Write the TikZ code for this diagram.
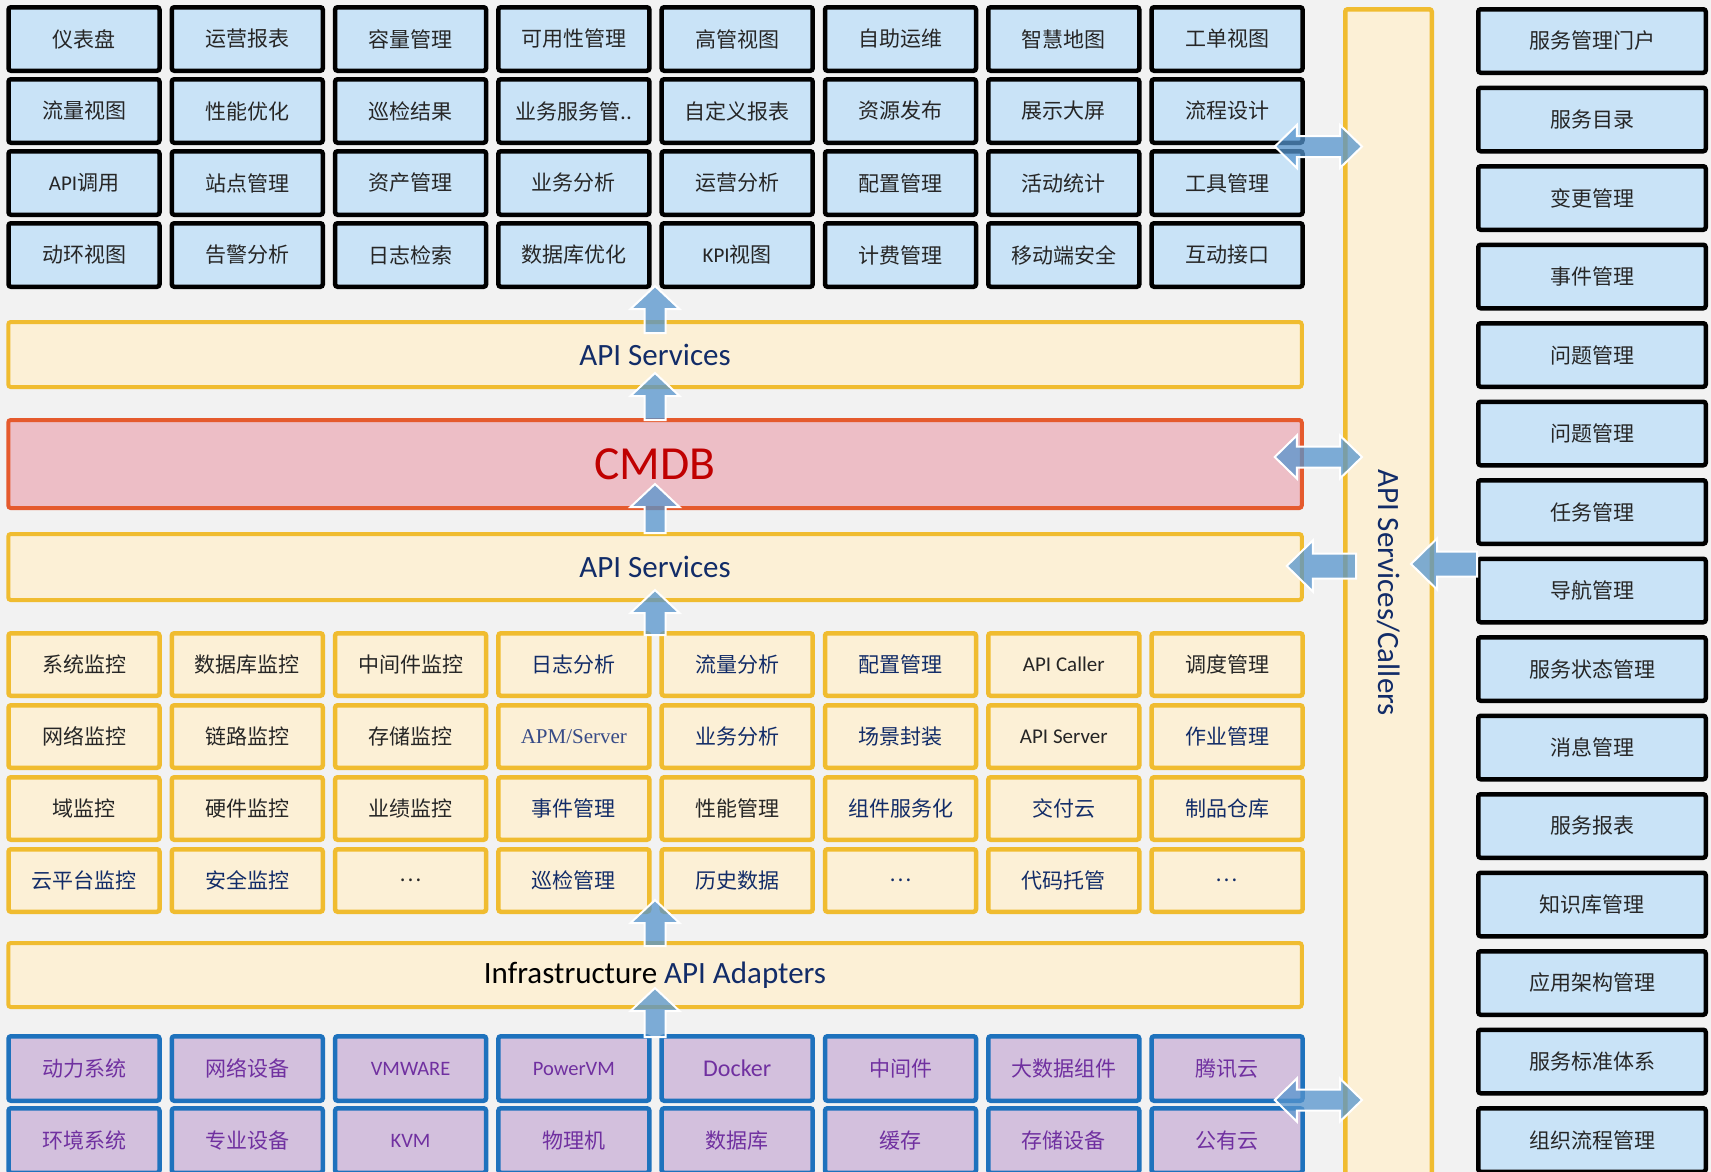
\documentclass[tikz,border=0pt]{standalone}
\usepackage{fontspec}
\setmainfont{Noto Sans CJK SC}
\newfontfamily\lat{Carlito}
\newfontfamily\serl{Liberation Serif}
\usetikzlibrary{calc}
\definecolor{bgc}{RGB}{242,242,242}
\definecolor{bluefill}{RGB}{201,227,247}
\definecolor{txt}{RGB}{38,38,38}
\definecolor{cream}{RGB}{252,240,214}
\definecolor{gold}{RGB}{240,188,48}
\definecolor{navy}{RGB}{18,44,104}
\definecolor{apmc}{RGB}{55,75,135}
\definecolor{pinkf}{RGB}{237,190,198}
\definecolor{orangeb}{RGB}{229,90,45}
\definecolor{cmdbred}{RGB}{192,0,0}
\definecolor{lavf}{RGB}{211,192,221}
\definecolor{blueb}{RGB}{30,114,189}
\definecolor{purp}{RGB}{112,48,160}
\definecolor{arrc}{RGB}{85,148,205}
\newcommand\fsz[1]{\fontsize{#1}{#1}\selectfont}
\newcommand\arrUp[2]{\draw[blk] let \p1=(#1), \p2=(#2) in (\x1-6.3pt,\y1) -- (\x1-6.3pt,\y2-13.8pt) -- (\x1-14.7pt,\y2-13.8pt) -- (\x1,\y2) -- (\x1+14.7pt,\y2-13.8pt) -- (\x1+6.3pt,\y2-13.8pt) -- (\x1+6.3pt,\y1) -- cycle;}
\newcommand\arrDbl[2]{\draw[blk] let \p1=(#1), \p2=(#2) in (\x1,\y1) -- (\x1+13.2pt,\y1+12.9pt) -- (\x1+13.2pt,\y1+6.3pt) -- (\x2-13.2pt,\y1+6.3pt) -- (\x2-13.2pt,\y1+12.9pt) -- (\x2,\y1) -- (\x2-13.2pt,\y1-12.9pt) -- (\x2-13.2pt,\y1-6.3pt) -- (\x1+13.2pt,\y1-6.3pt) -- (\x1+13.2pt,\y1-12.9pt) -- cycle;}
\newcommand\arrLeft[2]{\draw[blk] let \p1=(#1), \p2=(#2) in (\x1,\y1+7.5pt) -- (\x2+15.6pt,\y1+7.5pt) -- (\x2+15.6pt,\y1+15.3pt) -- (\x2,\y1) -- (\x2+15.6pt,\y1-15.3pt) -- (\x2+15.6pt,\y1-7.5pt) -- (\x1,\y1-7.5pt) -- cycle;}
\tikzset{
 tbox/.style={draw=black, fill=bluefill, line width=2.7pt, rounded corners=1.5pt, minimum width=90.6pt, minimum height=38.1pt, inner sep=0pt, text=txt, font=\fsz{12.6pt}},
 mbox/.style={tbox, draw=gold, fill=cream, minimum height=37.5pt},
 bbox/.style={tbox, draw=blueb, fill=lavf, text=purp, minimum height=38.7pt},
 rbox/.style={tbox, minimum width=136.5pt},
 band/.style={draw=gold, fill=cream, line width=2.4pt, rounded corners=1.5pt, minimum width=776.1pt, inner sep=0pt, text=navy, font=\lat\fsz{18.6pt}},
 blk/.style={fill=arrc, fill opacity=0.75, draw=white, line width=1.2pt, line join=miter},
}
\begin{document}
\begin{tikzpicture}[x=0.6pt, y=-0.6pt]
\fill[bgc] (0,0) rectangle (1711,1172);
\useasboundingbox (0,0) rectangle (1711,1172);
\clip (0,0) rectangle (1711,1172);
% top grid
\foreach \t [count=\c] in {仪表盘,运营报表,容量管理,可用性管理,高管视图,自助运维,智慧地图,工单视图}
  \node[tbox] (t-1-\c) at ({84+163.3*(\c-1)},39) {\t};
\foreach \t [count=\c] in {流量视图,性能优化,巡检结果,业务服务管..,自定义报表,资源发布,展示大屏,流程设计}
  \node[tbox] (t-2-\c) at ({84+163.3*(\c-1)},111) {\t};
\foreach \t [count=\c] in {{{\lat API}调用},站点管理,资产管理,业务分析,运营分析,配置管理,活动统计,工具管理}
  \node[tbox] (t-3-\c) at ({84+163.3*(\c-1)},183) {\t};
\foreach \t [count=\c] in {动环视图,告警分析,日志检索,数据库优化,{{\lat KPI}视图},计费管理,移动端安全,互动接口}
  \node[tbox] (t-4-\c) at ({84+163.3*(\c-1)},255) {\t};
% middle grid
\foreach \t [count=\c] in {系统监控,数据库监控,中间件监控,{\color{navy}日志分析},{\color{navy}流量分析},{\color{navy}配置管理},{\lat API Caller},调度管理}
  \node[mbox] (m-1-\c) at ({84+163.3*(\c-1)},664.5) {\t};
\foreach \t [count=\c] in {网络监控,链路监控,存储监控,{\serl\color{apmc}APM/Server},{\color{navy}业务分析},{\color{navy}场景封装},{\lat API Server},{\color{navy}作业管理}}
  \node[mbox] (m-2-\c) at ({84+163.3*(\c-1)},736.5) {\t};
\foreach \t [count=\c] in {域监控,硬件监控,业绩监控,{\color{navy}事件管理},性能管理,{\color{navy}组件服务化},{\color{navy}交付云},{\color{navy}制品仓库}}
  \node[mbox] (m-3-\c) at ({84+163.3*(\c-1)},808.5) {\t};
\foreach \t [count=\c] in {{\color{navy}云平台监控},{\color{navy}安全监控},…,{\color{navy}巡检管理},{\color{navy}历史数据},{\color{navy}…},{\color{navy}代码托管},{\color{navy}…}}
  \node[mbox] (m-4-\c) at ({84+163.3*(\c-1)},880.5) {\t};
% bottom grid
\foreach \t [count=\c] in {动力系统,网络设备,{\lat\fsz{12.3pt}VMWARE},{\lat\fsz{12.3pt}PowerVM},{\lat\fsz{14.4pt}Docker},中间件,大数据组件,腾讯云}
  \node[bbox] (b-1-\c) at ({84+163.3*(\c-1)},1068.5) {\t};
\foreach \t [count=\c] in {环境系统,专业设备,{\lat\fsz{12.3pt}KVM},物理机,数据库,缓存,存储设备,公有云}
  \node[bbox] (b-2-\c) at ({84+163.3*(\c-1)},1140.5) {\t};
% right column
\foreach \t [count=\i] in {服务管理门户,服务目录,变更管理,事件管理,问题管理,问题管理,任务管理,导航管理,服务状态管理,消息管理,服务报表,知识库管理,应用架构管理,服务标准体系,组织流程管理}
  \node[rbox] (r-\i) at (1592,{41+78.5*(\i-1)}) {\t};
% bands
\node[band, minimum height=39pt] (band1) at (655,354.5) {API Services};
\node[band, draw=orangeb, fill=pinkf, minimum height=52.8pt, text=cmdbred, font=\lat\fsz{28.5pt}] (cmdb) at (655,464) {CMDB};
\node[band, minimum height=39.6pt] (band2) at (655,567) {API Services};
\node[band, minimum height=38.4pt] (infra) at (655,975) {{\color{black}Infrastructure} API Adapters};
% vertical bar
\node[draw=gold, fill=cream, line width=2.7pt, rounded corners=1.5pt, minimum width=51.9pt, minimum height=699.9pt, inner sep=0pt, text=navy, font=\lat\fsz{18.6pt}] (vbar) at (1388.5,592.5) {\rotatebox{-90}{API Services/Callers}};
% vertical arrows
\coordinate (a1s) at ($(band1.north)+(0,13)$);
\coordinate (a1e) at ($(band1.north |- t-4-5.south)+(0,-3)$);
\coordinate (a2s) at ($(cmdb.north)+(0,2)$);
\coordinate (a2e) at ($(band1.south)+(0,-16)$);
\coordinate (a3s) at ($(band2.north)+(0,1)$);
\coordinate (a3e) at ($(cmdb.south)+(0,-26)$);
\coordinate (a4s) at ($(band2.north |- m-1-5.north)+(0,4)$);
\coordinate (a4e) at ($(band2.south)+(0,-12)$);
\coordinate (a5s) at ($(infra.north)+(0,5)$);
\coordinate (a5e) at ($(infra.north |- m-4-5.south)+(0,-14)$);
\coordinate (a6s) at ($(infra.north |- b-1-5.north)+(0,3)$);
\coordinate (a6e) at ($(infra.south)+(0,-21)$);
\arrUp{a1s}{a1e}
\arrUp{a2s}{a2e}
\arrUp{a3s}{a3e}
\arrUp{a4s}{a4e}
\arrUp{a5s}{a5e}
\arrUp{a6s}{a6e}
% horizontal arrows
\coordinate (h1l) at ($(t-2-8.south east)+(-30,1.5)$);
\coordinate (h1r) at ($(vbar.west |- h1l)+(19,0)$);
\coordinate (h2l) at ($(cmdb.east)+(-29,-7)$);
\coordinate (h2r) at ($(vbar.west |- h2l)+(19,0)$);
\coordinate (cs) at ($(vbar.west |- band2.east)+(13,-1)$);
\coordinate (ce) at ($(band2.east)+(-17,-1)$);
\coordinate (ds) at ($(r-8.north west)+(1,7.5)$);
\coordinate (de) at ($(vbar.east |- ds)+(-23,0)$);
\coordinate (el) at ($(b-1-8.south east)+(-30,-3)$);
\coordinate (er) at ($(vbar.west |- el)+(19,0)$);
\arrDbl{h1l}{h1r}
\arrDbl{h2l}{h2r}
\arrLeft{cs}{ce}
\arrLeft{ds}{de}
\arrDbl{el}{er}
\end{tikzpicture}
\end{document}
